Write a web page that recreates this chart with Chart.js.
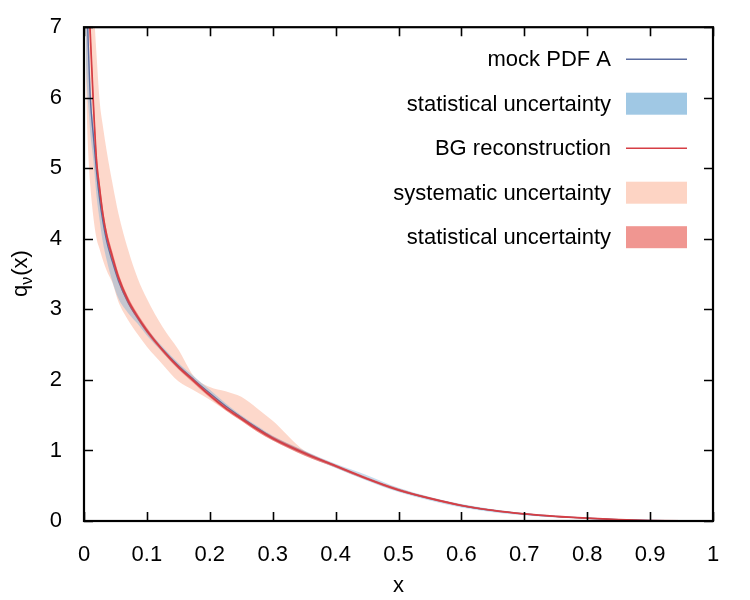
<!DOCTYPE html>
<html>
<head>
<meta charset="utf-8">
<script src="https://cdn.jsdelivr.net/npm/chart.js"></script>
<style>
  html, body { margin: 0; padding: 0; background: #fff; }
</style>
</head>
<body>
<canvas id="pdf" width="750" height="600"></canvas>
<script>
// x grid and curves
var xs = [0.003, 0.005, 0.008, 0.01, 0.015, 0.02, 0.025, 0.03, 0.036, 0.045, 0.055, 0.07, 0.085, 0.1, 0.125, 0.15, 0.175, 0.2,
          0.225, 0.25, 0.275, 0.3, 0.35, 0.4, 0.45, 0.5, 0.55, 0.6, 0.65, 0.7, 0.75, 0.8, 0.85, 0.9, 0.95, 1.0];

var mockPdf    = [8.3, 7.3, 6.45, 6.0, 5.45, 4.95, 4.55, 4.25, 3.97, 3.68, 3.4, 3.1, 2.88, 2.69, 2.43, 2.2, 2.0, 1.81,
                  1.63, 1.47, 1.32, 1.18, 0.97, 0.78, 0.6, 0.44, 0.32, 0.22, 0.15, 0.1, 0.065, 0.04, 0.02, 0.007, 0.001, 0];
var mockStatLo = [6.5, 6.1, 5.75, 5.5, 5.1, 4.6, 4.25, 3.95, 3.7, 3.4, 3.15, 2.95, 2.8, 2.63, 2.39, 2.16, 1.97, 1.77,
                  1.6, 1.44, 1.29, 1.15, 0.94, 0.75, 0.57, 0.41, 0.29, 0.19, 0.125, 0.08, 0.05, 0.03, 0.013, 0.004, 0, 0];
var mockStatHi = [8.7, 7.6, 6.7, 6.2, 5.6, 5.05, 4.65, 4.33, 4.05, 3.75, 3.46, 3.15, 2.92, 2.73, 2.47, 2.24, 2.05, 1.86,
                  1.67, 1.5, 1.35, 1.21, 1.0, 0.81, 0.65, 0.47, 0.34, 0.24, 0.165, 0.11, 0.072, 0.045, 0.024, 0.009, 0.002, 0];

var bgRecon    = [10.5, 8.6, 7.35, 6.9, 5.9, 5.1, 4.7, 4.35, 4.05, 3.75, 3.45, 3.13, 2.9, 2.7, 2.42, 2.18, 1.98, 1.78,
                  1.6, 1.45, 1.3, 1.17, 0.96, 0.78, 0.6, 0.44, 0.32, 0.22, 0.15, 0.1, 0.065, 0.04, 0.02, 0.007, 0.001, 0];
var bgStatLo   = [10.0, 8.3, 7.15, 6.75, 5.75, 5.0, 4.6, 4.27, 3.98, 3.68, 3.39, 3.08, 2.86, 2.66, 2.39, 2.15, 1.95, 1.75,
                  1.57, 1.42, 1.27, 1.14, 0.93, 0.76, 0.58, 0.42, 0.305, 0.207, 0.14, 0.092, 0.058, 0.035, 0.017, 0.005, 0, 0];
var bgStatHi   = [11.0, 8.9, 7.55, 7.05, 6.05, 5.22, 4.8, 4.43, 4.12, 3.82, 3.51, 3.18, 2.94, 2.74, 2.45, 2.21, 2.01, 1.81,
                  1.63, 1.48, 1.33, 1.2, 0.99, 0.8, 0.62, 0.46, 0.335, 0.233, 0.16, 0.108, 0.072, 0.045, 0.023, 0.009, 0.002, 0];

var sysLo      = [6.3, 5.6, 5.0, 4.75, 4.3, 4.0, 3.85, 3.7, 3.55, 3.38, 3.1, 2.85, 2.65, 2.47, 2.22, 1.98, 1.85, 1.72,
                  1.57, 1.42, 1.27, 1.14, 0.93, 0.76, 0.58, 0.42, 0.305, 0.207, 0.14, 0.092, 0.058, 0.035, 0.017, 0.005, 0, 0];
var sysHi      = [11, 10, 8.8, 8.2, 7.35, 6.6, 5.94, 5.6, 5.25, 4.8, 4.35, 3.85, 3.45, 3.15, 2.75, 2.43, 2.05, 1.9,
                  1.84, 1.76, 1.6, 1.42, 1.0, 0.8, 0.62, 0.46, 0.335, 0.235, 0.162, 0.108, 0.07, 0.044, 0.022, 0.008, 0.001, 0];

var xTicks = [0, 0.1, 0.2, 0.3, 0.4, 0.5, 0.6, 0.7, 0.8, 0.9, 1];
var xTickLabels = ['0', '0.1', '0.2', '0.3', '0.4', '0.5', '0.6', '0.7', '0.8', '0.9', '1'];
var yTicks = [0, 1, 2, 3, 4, 5, 6, 7];
var yTickLabels = ['0', '1', '2', '3', '4', '5', '6', '7'];

var FONT = '"Liberation Sans", Arial, Helvetica, sans-serif';

function pts(ys) {
    return xs.map(function (x, i) { return { x: x, y: ys[i] }; });
}

function helper(ys, order) {
    return { data: pts(ys), borderWidth: 0, pointRadius: 0, fill: false, order: order, showLine: false };
}

var datasets = [
    helper(sysLo, 100),
    { label: 'systematic uncertainty', legendType: 'box', legendRank: 3, legendColor: 'rgb(253,212,196)',
      data: pts(sysHi), borderWidth: 0, pointRadius: 0,
      backgroundColor: 'rgba(252,190,168,0.6)', fill: '-1', order: 90 },
    helper(mockStatLo, 80),
    { label: 'statistical uncertainty', legendType: 'box', legendRank: 1, legendColor: 'rgb(160,200,228)',
      data: pts(mockStatHi), borderWidth: 0, pointRadius: 0,
      backgroundColor: 'rgba(120,175,218,0.42)', fill: '-1', order: 70 },
    { label: 'mock PDF A', legendType: 'line', legendRank: 0, data: pts(mockPdf), borderColor: 'rgb(90,108,160)', borderWidth: 1.4,
      pointRadius: 0, fill: false, order: 60 },
    helper(bgStatLo, 50),
    { label: 'statistical uncertainty', legendType: 'box', legendRank: 4, legendColor: 'rgb(240,150,145)',
      data: pts(bgStatHi), borderWidth: 0, pointRadius: 0,
      backgroundColor: 'rgba(232,80,75,0.55)', fill: '-1', order: 40 },
    { label: 'BG reconstruction', legendType: 'line', legendRank: 2, data: pts(bgRecon), borderColor: 'rgb(214,62,68)', borderWidth: 1.7,
      pointRadius: 0, fill: false, order: 30 }
];

// gnuplot-like frame with inward ticks on all four sides, plus the y title
var framePlugin = {
    id: 'frame',
    afterDraw: function (chart) {
        var ctx = chart.ctx, a = chart.chartArea;
        var sx = chart.scales.x, sy = chart.scales.y;
        ctx.save();
        ctx.strokeStyle = '#000';
        ctx.lineWidth = 1.6;
        ctx.beginPath();
        xTicks.forEach(function (v) {
            var px = Math.round(sx.getPixelForValue(v)) + 0.5;
            ctx.moveTo(px, a.bottom); ctx.lineTo(px, a.bottom - 9);
            ctx.moveTo(px, a.top); ctx.lineTo(px, a.top + 9);
        });
        yTicks.forEach(function (v) {
            var py = Math.round(sy.getPixelForValue(v)) + 0.5;
            ctx.moveTo(a.left, py); ctx.lineTo(a.left + 9, py);
            ctx.moveTo(a.right, py); ctx.lineTo(a.right - 9, py);
        });
        ctx.stroke();
        ctx.lineWidth = 2.2;
        ctx.strokeRect(a.left, a.top, a.right - a.left, a.bottom - a.top);

        // y title q_nu(x)
        ctx.translate(27, (a.top + a.bottom) / 2);
        ctx.rotate(-Math.PI / 2);
        ctx.fillStyle = '#000';
        ctx.textBaseline = 'alphabetic';
        var big = '22px ' + FONT, small = '16px ' + FONT;
        ctx.font = big; var w1 = ctx.measureText('q').width, w3 = ctx.measureText('(x)').width;
        ctx.font = small; var w2 = ctx.measureText('\u03bd').width;
        var x0 = -(w1 + w2 + w3) / 2;
        ctx.font = big; ctx.fillText('q', x0, 0);
        ctx.font = small; ctx.fillText('\u03bd', x0 + w1, 5);
        ctx.font = big; ctx.fillText('(x)', x0 + w1 + w2 + 1, 0);
        ctx.restore();
    }
};

// key inside the top right corner, text right-aligned left of the samples
var keyPlugin = {
    id: 'key',
    afterDraw: function (chart) {
        var ctx = chart.ctx, a = chart.chartArea;
        var items = chart.data.datasets.filter(function (d) { return d.legendType; })
            .sort(function (p, q) { return p.legendRank - q.legendRank; });
        ctx.save();
        ctx.font = '22px ' + FONT;
        ctx.textAlign = 'right';
        ctx.textBaseline = 'middle';
        items.forEach(function (d, i) {
            var cy = a.top + 32 + i * 44.5;
            ctx.fillStyle = '#000';
            ctx.fillText(d.label, a.right - 102, cy + 1);
            var sx = a.right - 87, sw = 61;
            if (d.legendType === 'line') {
                ctx.strokeStyle = d.borderColor;
                ctx.lineWidth = 1.6;
                ctx.beginPath(); ctx.moveTo(sx, cy); ctx.lineTo(sx + sw, cy); ctx.stroke();
            } else {
                ctx.fillStyle = d.legendColor;
                ctx.fillRect(sx, cy - 11, sw, 22);
            }
        });
        ctx.restore();
    }
};

Chart.defaults.font.family = FONT;
Chart.defaults.font.size = 22;
Chart.defaults.color = '#000';

var ctx = document.getElementById('pdf').getContext('2d');
var pdfChart = new Chart(ctx, {
    type: 'line',
    data: { datasets: datasets },
    options: {
        responsive: false,
        animation: false,
        events: [],
        layout: { padding: { top: 27, right: 37, left: 0, bottom: 0 } },
        elements: { line: { cubicInterpolationMode: 'monotone' } },
        plugins: { legend: { display: false }, tooltip: { enabled: false } },
        scales: {
            x: {
                type: 'linear', min: 0, max: 1,
                grid: { display: false }, border: { display: false },
                afterBuildTicks: function (s) { s.ticks = xTicks.map(function (v) { return { value: v }; }); },
                afterFit: function (s) { s.height = 79; },
                ticks: { padding: 13, maxRotation: 0, autoSkip: false,
                         callback: function (v, i) { return xTickLabels[i]; } },
                title: { display: true, text: 'x', padding: { top: 0, bottom: 1 } }
            },
            y: {
                type: 'linear', min: 0, max: 7,
                grid: { display: false }, border: { display: false },
                afterBuildTicks: function (s) { s.ticks = yTicks.map(function (v) { return { value: v }; }); },
                afterFit: function (s) { s.width = 84; },
                ticks: { padding: 14, autoSkip: false,
                         callback: function (v, i) { return yTickLabels[i]; } }
            }
        }
    },
    plugins: [framePlugin, keyPlugin]
});
</script>
</body>
</html>
